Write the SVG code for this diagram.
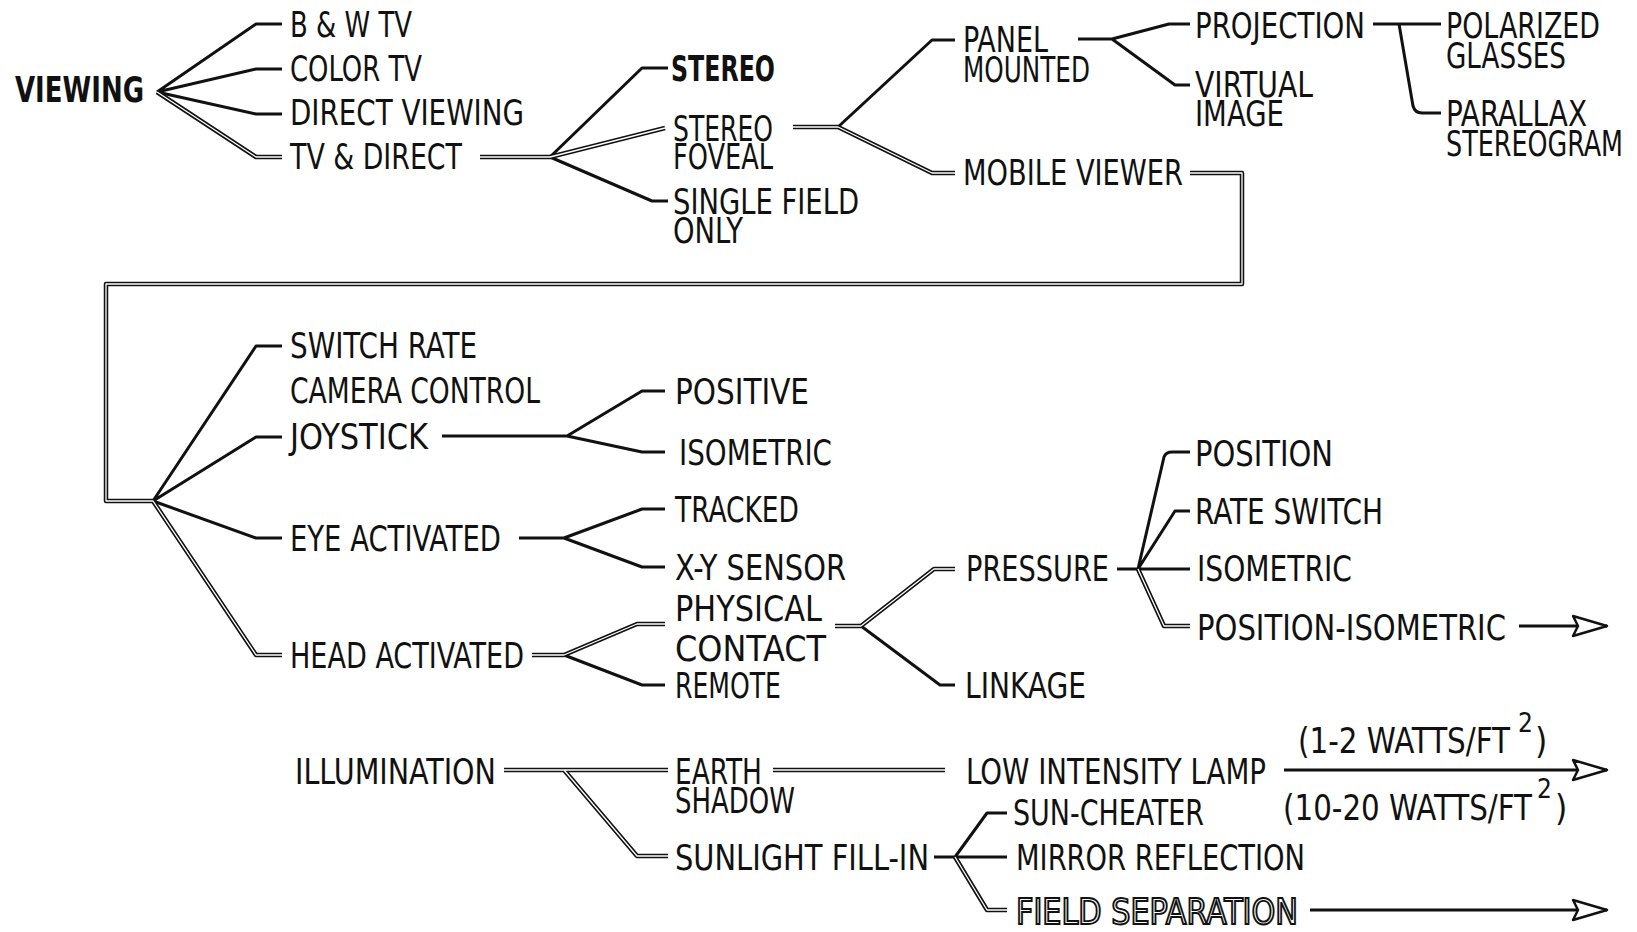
<svg xmlns="http://www.w3.org/2000/svg" width="1637" height="932" viewBox="0 0 1637 932">
<style>
.t{font-family:"Liberation Sans Narrow","DejaVu Sans Condensed","Liberation Sans",sans-serif;font-size:35px;fill:#111;}
.b{font-weight:bold;}
.o{fill:#fff;stroke:#111;stroke-width:1.9px;}
.s{font-size:26px;}
.ln{fill:none;stroke:#111;stroke-width:3;stroke-linejoin:round;stroke-linecap:butt;}
.hl{fill:none;stroke:#111;stroke-width:4.5;stroke-linejoin:round;}
.hw{fill:none;stroke:#fff;stroke-width:1.3;stroke-linejoin:round;}
</style>
<defs>
<marker id="ah" markerUnits="userSpaceOnUse" markerWidth="40" markerHeight="26" viewBox="-2 -13 40 26" refX="34" refY="0" orient="auto" overflow="visible">
<path d="M0,-10 L34,0 L0,10 L5,0 Z" fill="#fff" stroke="#111" stroke-width="2.5" stroke-linejoin="round"/>
</marker>
</defs>
<rect width="1637" height="932" fill="#fff"/>

<g id="connectors">
<path class="ln" d="M157,92 L256,24 H282 M157,92 L256,69 H282 M157,92 L256,114 H282"/>
<path class="ln" d="M550,157 L642,68 H668 M550,157 L652,201 H668"/>
<path class="ln" d="M838,127 L932,40 H955"/>
<path class="ln" d="M1078,39 H1112 L1169,24 H1190 M1112,39 L1175,85 H1190"/>
<path class="ln" d="M1373,24 H1441 M1399,24 L1413,106 Q1415,113 1422,113 H1441"/>
<path class="ln" d="M153,501 L256,346 H282 M153,501 L256,437 H282 M153,501 L256,538 H282"/>
<path class="ln" d="M442,436 H567 L642,391 H665 M567,436 L642,452 H665"/>
<path class="ln" d="M519,538 H564 L642,509 H665 M564,538 L642,567 H665"/>
<path class="ln" d="M564,655 L642,685 H665"/>
<path class="ln" d="M861,626 L940,685 H955"/>
<path class="ln" d="M1117,569 H1190 M1138,569 L1164,457 Q1166,452 1172,452 H1190 M1138,569 L1175,511 H1190"/>
<path class="ln" d="M934,857 H1007 M955,857 L987,813 H1007"/>
<path class="hl" d="M157,92 L256,157 H282 M480,157 H550 L665,128 M793,127 H838 L932,173 H955 M1190,173 H1242 V284 H106 V501 H153 L256,655 H282 M532,655 H564 L637,624 H665 M835,626 H861 L934,569 H955 M1138,569 L1164,626 H1190 M504,770 H668 M564,770 L637,856 H668 M773,770 H945 M955,857 L987,910 H1007"/>
<path class="hw" d="M157,92 L256,157 H282 M480,157 H550 L665,128 M793,127 H838 L932,173 H955 M1190,173 H1242 V284 H106 V501 H153 L256,655 H282 M532,655 H564 L637,624 H665 M835,626 H861 L934,569 H955 M1138,569 L1164,626 H1190 M504,770 H668 M564,770 L637,856 H668 M773,770 H945 M955,857 L987,910 H1007"/>
<path class="ln" d="M1519,626 H1607" marker-end="url(#ah)"/>
<path class="ln" d="M1284,770 H1607" marker-end="url(#ah)"/>
<path class="ln" d="M1310,910 H1607" marker-end="url(#ah)"/>
</g>

<g id="n-viewing"><text class="t b" x="15" y="102" textLength="129" lengthAdjust="spacingAndGlyphs">VIEWING</text></g>
<g id="n-bwtv"><text class="t" x="290" y="37" textLength="122" lengthAdjust="spacingAndGlyphs">B &amp; W TV</text></g>
<g id="n-colortv"><text class="t" x="290" y="81" textLength="132" lengthAdjust="spacingAndGlyphs">COLOR TV</text></g>
<g id="n-direct"><text class="t" x="290" y="125" textLength="234" lengthAdjust="spacingAndGlyphs">DIRECT VIEWING</text></g>
<g id="n-tvdirect"><text class="t" x="290" y="169" textLength="172" lengthAdjust="spacingAndGlyphs">TV &amp; DIRECT</text></g>
<g id="n-stereo"><text class="t b" x="671" y="81" textLength="104" lengthAdjust="spacingAndGlyphs">STEREO</text></g>
<g id="n-foveal"><text class="t" x="673" y="141" textLength="100" lengthAdjust="spacingAndGlyphs">STEREO</text><text class="t" x="673" y="169" textLength="100" lengthAdjust="spacingAndGlyphs">FOVEAL</text></g>
<g id="n-single"><text class="t" x="673" y="214" textLength="186" lengthAdjust="spacingAndGlyphs">SINGLE FIELD</text><text class="t" x="673" y="243" textLength="70" lengthAdjust="spacingAndGlyphs">ONLY</text></g>
<g id="n-panel"><text class="t" x="963" y="52" textLength="85" lengthAdjust="spacingAndGlyphs">PANEL</text><text class="t" x="963" y="82" textLength="127" lengthAdjust="spacingAndGlyphs">MOUNTED</text></g>
<g id="n-mobile"><text class="t" x="963" y="185" textLength="220" lengthAdjust="spacingAndGlyphs">MOBILE VIEWER</text></g>
<g id="n-projection"><text class="t" x="1195" y="38" textLength="170" lengthAdjust="spacingAndGlyphs">PROJECTION</text></g>
<g id="n-virtual"><text class="t" x="1195" y="97" textLength="118" lengthAdjust="spacingAndGlyphs">VIRTUAL</text><text class="t" x="1195" y="126" textLength="89" lengthAdjust="spacingAndGlyphs">IMAGE</text></g>
<g id="n-polarized"><text class="t" x="1446" y="38" textLength="154" lengthAdjust="spacingAndGlyphs">POLARIZED</text><text class="t" x="1446" y="68" textLength="120" lengthAdjust="spacingAndGlyphs">GLASSES</text></g>
<g id="n-parallax"><text class="t" x="1446" y="126" textLength="141" lengthAdjust="spacingAndGlyphs">PARALLAX</text><text class="t" x="1446" y="156" textLength="177" lengthAdjust="spacingAndGlyphs">STEREOGRAM</text></g>

<g id="n-switchrate"><text class="t" x="290" y="358" textLength="187" lengthAdjust="spacingAndGlyphs">SWITCH RATE</text></g>
<g id="n-camera"><text class="t" x="290" y="403" textLength="250" lengthAdjust="spacingAndGlyphs">CAMERA CONTROL</text></g>
<g id="n-joystick"><text class="t" x="290" y="449" textLength="138" lengthAdjust="spacingAndGlyphs">JOYSTICK</text></g>
<g id="n-eye"><text class="t" x="290" y="551" textLength="211" lengthAdjust="spacingAndGlyphs">EYE ACTIVATED</text></g>
<g id="n-head"><text class="t" x="290" y="668" textLength="234" lengthAdjust="spacingAndGlyphs">HEAD ACTIVATED</text></g>
<g id="n-positive"><text class="t" x="675" y="404" textLength="134" lengthAdjust="spacingAndGlyphs">POSITIVE</text></g>
<g id="n-isometric1"><text class="t" x="679" y="465" textLength="153" lengthAdjust="spacingAndGlyphs">ISOMETRIC</text></g>
<g id="n-tracked"><text class="t" x="675" y="522" textLength="124" lengthAdjust="spacingAndGlyphs">TRACKED</text></g>
<g id="n-xy"><text class="t" x="675" y="580" textLength="171" lengthAdjust="spacingAndGlyphs">X-Y SENSOR</text></g>
<g id="n-physical"><text class="t" x="675" y="621" textLength="147" lengthAdjust="spacingAndGlyphs">PHYSICAL</text><text class="t" x="675" y="661" textLength="151" lengthAdjust="spacingAndGlyphs">CONTACT</text></g>
<g id="n-remote"><text class="t" x="675" y="698" textLength="106" lengthAdjust="spacingAndGlyphs">REMOTE</text></g>
<g id="n-pressure"><text class="t" x="966" y="581" textLength="143" lengthAdjust="spacingAndGlyphs">PRESSURE</text></g>
<g id="n-linkage"><text class="t" x="965" y="698" textLength="121" lengthAdjust="spacingAndGlyphs">LINKAGE</text></g>
<g id="n-position"><text class="t" x="1195" y="466" textLength="138" lengthAdjust="spacingAndGlyphs">POSITION</text></g>
<g id="n-rateswitch"><text class="t" x="1195" y="524" textLength="188" lengthAdjust="spacingAndGlyphs">RATE SWITCH</text></g>
<g id="n-isometric2"><text class="t" x="1197" y="581" textLength="155" lengthAdjust="spacingAndGlyphs">ISOMETRIC</text></g>
<g id="n-posiso"><text class="t" x="1197" y="640" textLength="309" lengthAdjust="spacingAndGlyphs">POSITION-ISOMETRIC</text></g>

<g id="n-illumination"><text class="t" x="295" y="784" textLength="201" lengthAdjust="spacingAndGlyphs">ILLUMINATION</text></g>
<g id="n-earth"><text class="t" x="675" y="784" textLength="87" lengthAdjust="spacingAndGlyphs">EARTH</text><text class="t" x="675" y="813" textLength="120" lengthAdjust="spacingAndGlyphs">SHADOW</text></g>
<g id="n-lamp"><text class="t" x="966" y="784" textLength="300" lengthAdjust="spacingAndGlyphs">LOW INTENSITY LAMP</text></g>
<g id="n-watts1"><text class="t" x="1298" y="753" textLength="212" lengthAdjust="spacingAndGlyphs">(1-2 WATTS/FT</text><text class="t s" x="1518" y="732">2</text><text class="t" x="1535" y="753">)</text></g>
<g id="n-watts2"><text class="t" x="1283" y="820" textLength="249" lengthAdjust="spacingAndGlyphs">(10-20 WATTS/FT</text><text class="t s" x="1537" y="798">2</text><text class="t" x="1555" y="820">)</text></g>
<g id="n-sunlight"><text class="t" x="675" y="870" textLength="254" lengthAdjust="spacingAndGlyphs">SUNLIGHT FILL-IN</text></g>
<g id="n-suncheater"><text class="t" x="1013" y="825" textLength="191" lengthAdjust="spacingAndGlyphs">SUN-CHEATER</text></g>
<g id="n-mirror"><text class="t" x="1016" y="870" textLength="289" lengthAdjust="spacingAndGlyphs">MIRROR REFLECTION</text></g>
<g id="n-fieldsep"><text class="t o" x="1016" y="924" textLength="282" lengthAdjust="spacingAndGlyphs">FIELD SEPARATION</text></g>
</svg>
